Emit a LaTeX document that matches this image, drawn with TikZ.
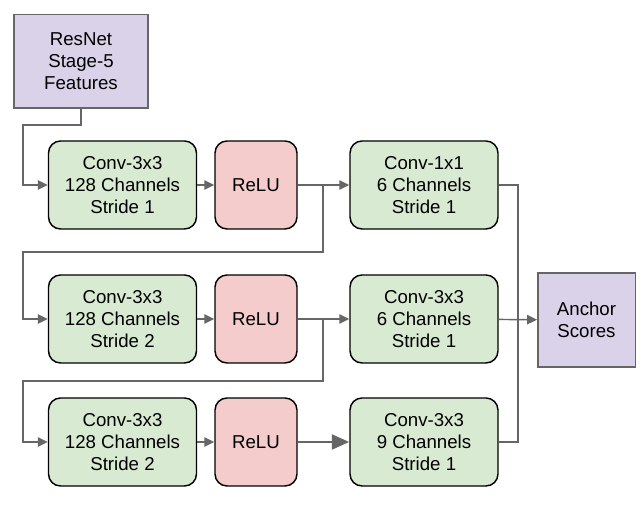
\documentclass[tikz,border=0pt]{standalone}
\usepackage{fontspec}
\setmainfont{Liberation Sans}
\usetikzlibrary{arrows.meta}
\definecolor{convgreen}{HTML}{D9EAD3}
\definecolor{relured}{HTML}{F4CCCC}
\definecolor{featpurple}{HTML}{D9D2E9}
\definecolor{wiregray}{HTML}{666666}
\begin{document}
\begin{tikzpicture}[x=0.75pt,y=-0.75pt,
  every node/.style={font=\fontsize{14}{16.5}\selectfont,align=center,inner sep=0pt},
  conv/.style={draw=black,line width=1.1pt,rounded corners=9pt,fill=convgreen,minimum width=111pt,minimum height=66pt},
  relu/.style={draw=black,line width=1.1pt,rounded corners=9pt,fill=relured,minimum width=61.5pt,minimum height=66pt},
  feat/.style={draw=wiregray,line width=1pt,fill=featpurple},
  wire/.style={draw=wiregray,line width=1.1pt},
  arr/.style={wire,-{Triangle[length=7.5pt,width=7pt]}},
  bigarr/.style={draw=wiregray,line width=2.2pt,-{Triangle[length=13pt,width=11pt]}}]
\useasboundingbox (0,0) rectangle (644,505);
%input
\node[feat,minimum width=100.5pt,minimum height=70pt] (res) at (81,61.5) {ResNet\\Stage-5\\Features};
%row 1
\node[conv] (c1) at (122.5,185) {Conv-3x3\\128 Channels\\Stride 1};
\node[relu] (r1) at (256,185) {ReLU};
\node[conv] (k1) at (424,185) {Conv-1x1\\6 Channels\\Stride 1};
%row 2
\node[conv] (c2) at (122.5,319) {Conv-3x3\\128 Channels\\Stride 2};
\node[relu] (r2) at (256,319) {ReLU};
\node[conv] (k2) at (424,319) {Conv-3x3\\6 Channels\\Stride 1};
%row 3
\node[conv] (c3) at (122.5,442) {Conv-3x3\\128 Channels\\Stride 2};
\node[relu] (r3) at (256,442) {ReLU};
\node[conv] (k3) at (424,442) {Conv-3x3\\9 Channels\\Stride 1};
%output
\node[feat,minimum width=73pt,minimum height=70.5pt] (out) at (586.5,320) {Anchor\\Scores};
%connectors
\coordinate (b1) at (323,185);
\coordinate (b2) at (323,319);
\coordinate (m) at (518,319);
\draw[arr] (res.south) |- (23,125) |- (c1.west);
\draw[arr] (c1) -- (r1);
\draw[arr] (r1) -- (k1);
\draw[arr] (b1) |- (23,252) |- (c2.west);
\draw[arr] (c2) -- (r2);
\draw[arr] (r2) -- (k2);
\draw[arr] (b2) |- (23,381) |- (c3.west);
\draw[arr] (c3) -- (r3);
\draw[bigarr] (r3) -- (k3);
\draw[wire] (k1.east) -| (m);
\draw[wire] (k3.east) -| (m);
\draw[arr] (k2) -- (out);
\end{tikzpicture}
\end{document}
